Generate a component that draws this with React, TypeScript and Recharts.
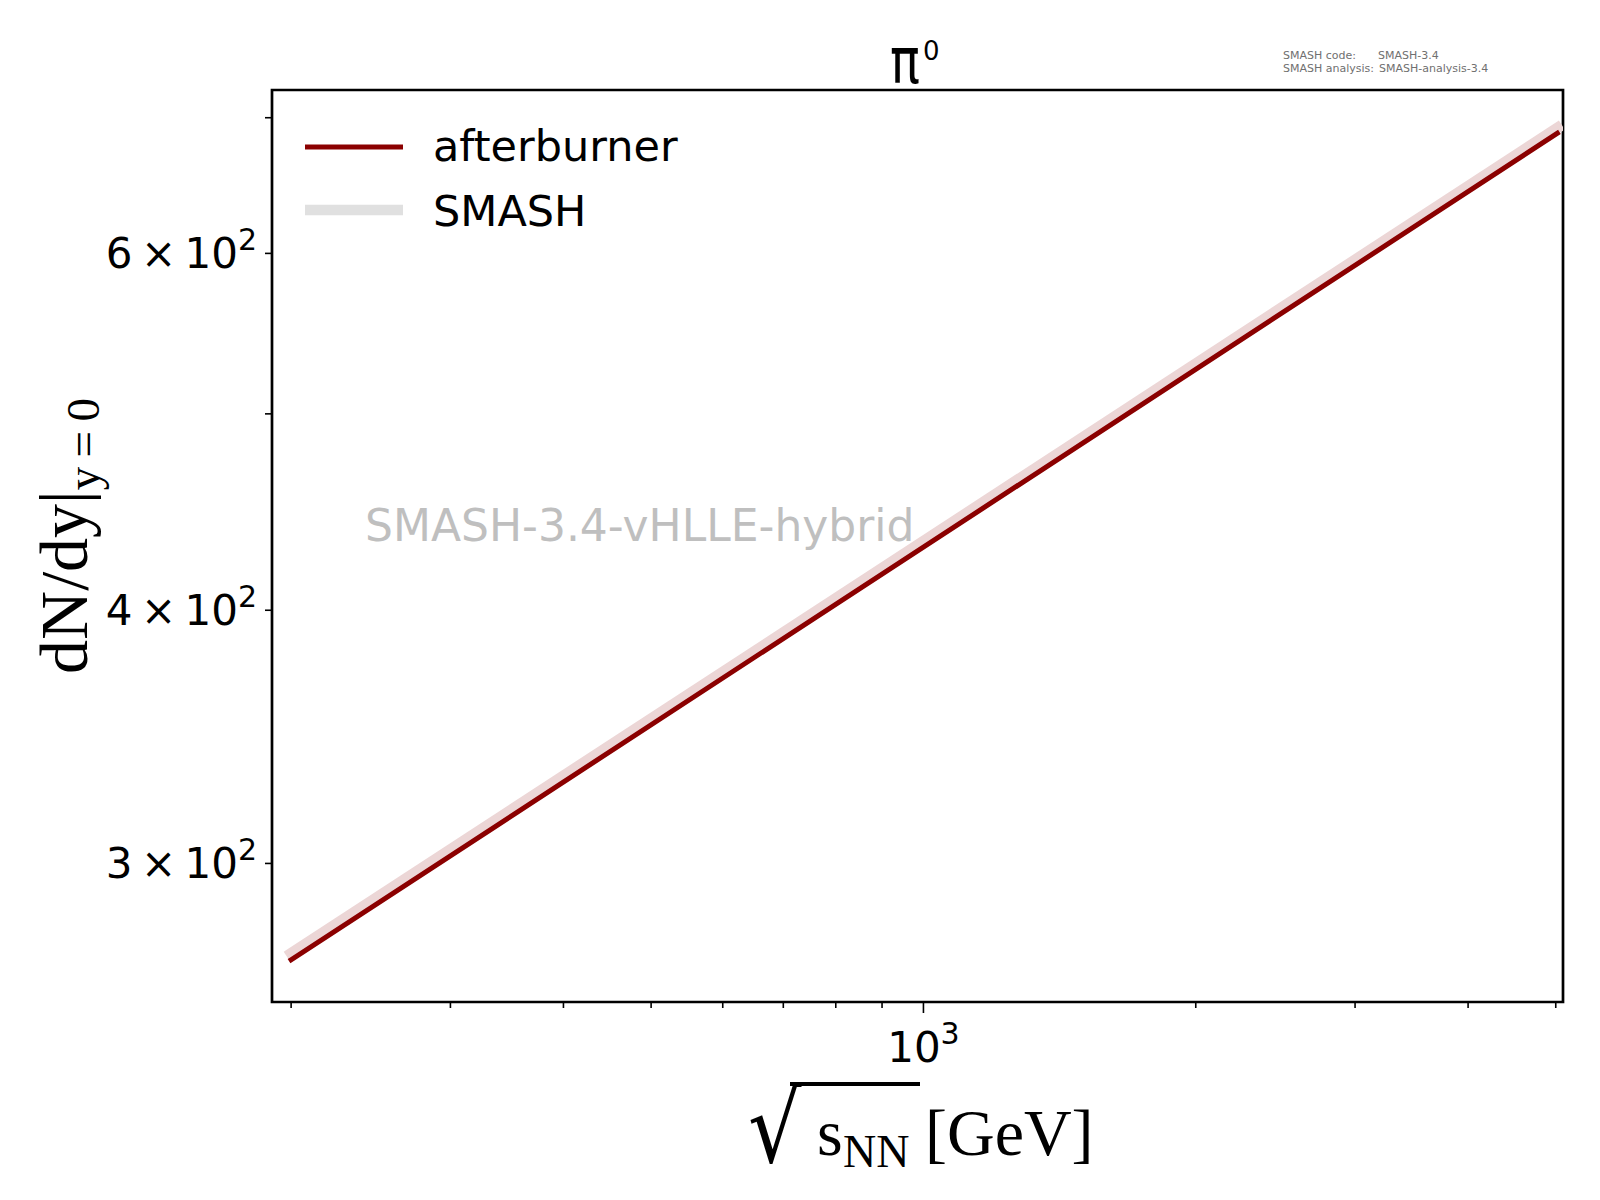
import { LineChart, Line, XAxis, YAxis, ReferenceArea, Legend } from 'recharts';

const energies = [200, 5020];
const afterburner = [268.9, 687.7];
const smash = [270.9, 691.9];

const xTicks = [200, 300, 400, 500, 600, 700, 800, 900, 1000, 2000, 3000, 4000, 5000];
const yTicks = [300, 400, 500, 600, 700];
const yLabelled = [300, 400, 600];
const xDomain = [190.5, 5093];
const yDomain = [256.3, 722.4];

const RED = '#8b0000';
const PINK = '#ecd6d6';
const GREY = '#e0e0e0';
const SANS = '"DejaVu Sans", sans-serif';
const SERIF = '"Liberation Serif", "Times New Roman", serif';

const data = energies.map((e, i) => ({ e, afterburner: afterburner[i], smash: smash[i] }));

function XTick({ x, y, payload }: any) {
  const major = payload.value === 1000;
  return (
    <g>
      <line x1={x} x2={x} y1={y} y2={y + (major ? 11 : 6)} stroke="#000" strokeWidth={1.6} />
      {major && (
        <text x={x} y={y + 60} textAnchor="middle" fontFamily={SANS} fontSize={42} fill="#000">
          10<tspan dy={-18} fontSize={30}>3</tspan>
        </text>
      )}
    </g>
  );
}

function YTick({ x, y, payload }: any) {
  const v = payload.value;
  const show = yLabelled.includes(v);
  return (
    <g>
      <line x1={x} x2={x - 7} y1={y} y2={y} stroke="#000" strokeWidth={1.6} />
      {show && (
        <text x={x - 15} y={y + 15} textAnchor="end" fontFamily={SANS} fontSize={42} fill="#000">
          {`${v / 100}\u2009×\u200910`}
          <tspan dy={-18} fontSize={30}>2</tspan>
        </text>
      )}
    </g>
  );
}

function LegendBox() {
  const items = [
    { name: 'afterburner', color: RED, width: 5 },
    { name: 'SMASH', color: GREY, width: 10.7 },
  ];
  return (
    <svg width={420} height={140}>
      {items.map((it, i) => (
        <g key={it.name}>
          <line x1={15} x2={113} y1={37 + i * 63} y2={37 + i * 63} stroke={it.color} strokeWidth={it.width} />
          <text x={143} y={51 + i * 65} fontFamily={SANS} fontSize={43} fill="#000">
            {it.name}
          </text>
        </g>
      ))}
    </svg>
  );
}

export default function App() {
  return (
    <div style={{ position: 'absolute', left: 0, top: 0, width: 1600, height: 1200, background: '#fff' }}>
      <LineChart
        width={1600}
        height={1200}
        data={data}
        margin={{ top: 90, right: 37, left: 0, bottom: 0 }}
      >
        <XAxis
          dataKey="e"
          type="number"
          scale="log"
          domain={xDomain}
          allowDataOverflow
          ticks={xTicks}
          interval={0}
          height={198}
          axisLine={false}
          tickLine={false}
          tickSize={0}
          tickMargin={0}
          tick={<XTick />}
        />
        <YAxis
          type="number"
          scale="log"
          domain={yDomain}
          allowDataOverflow
          ticks={yTicks}
          interval={0}
          width={272}
          axisLine={false}
          tickLine={false}
          tickSize={0}
          tickMargin={0}
          tick={<YTick />}
        />
        <Line
          dataKey="smash"
          stroke={PINK}
          strokeWidth={10.7}
          strokeLinecap="square"
          dot={false}
          isAnimationActive={false}
        />
        <Line
          dataKey="afterburner"
          stroke={RED}
          strokeWidth={5}
          strokeLinecap="square"
          dot={false}
          isAnimationActive={false}
        />
        <ReferenceArea
          x1={xDomain[0]}
          x2={xDomain[1]}
          y1={yDomain[0]}
          y2={yDomain[1]}
          fill="none"
          stroke="#000"
          strokeWidth={2.7}
          ifOverflow="visible"
        />
        <Legend
          layout="vertical"
          align="center"
          verticalAlign="middle"
          content={() => <LegendBox />}
          wrapperStyle={{ left: 290, top: 110, width: 420 }}
        />
      </LineChart>
      <svg
        width={1600}
        height={1200}
        style={{ position: 'absolute', left: 0, top: 0, pointerEvents: 'none' }}
      >
        {/* title */}
        <text transform="translate(905,83) scale(1.08,1.4)" textAnchor="middle" fontFamily={SANS} fontSize={46} fill="#000">
          π
        </text>
        <text x={923} y={60} fontFamily={SANS} fontSize={26} fill="#000">
          0
        </text>
        {/* version info */}
        <g fontFamily={SANS} fontSize={11} fill="#707070">
          <text x={1283} y={59}>SMASH code:</text>
          <text x={1378} y={59}>SMASH-3.4</text>
          <text x={1283} y={72}>SMASH analysis:</text>
          <text x={1379} y={72}>SMASH-analysis-3.4</text>
        </g>
        <text x={365} y={541} fontFamily={SANS} fontSize={44} fill="#bfbfbf">
          SMASH-3.4-vHLLE-hybrid
        </text>
        {/* axis labels */}
        <text transform="translate(87,536) rotate(-90)" textAnchor="middle" fontFamily={SERIF} fontSize={68} fill="#000">
          dN/dy|<tspan fontSize={47} dy={12}>{'y\u2009=\u20090'}</tspan>
        </text>
        <text transform="translate(748,1162) scale(1,1.17)" fontFamily={SANS} fontSize={84} fill="#000">
          √
        </text>
        <line x1={790} x2={920} y1={1084} y2={1084} stroke="#000" strokeWidth={4} />
        <text x={817} y={1155} fontFamily={SERIF} fontSize={66} fill="#000">
          s
        </text>
        <text x={843} y={1167} fontFamily={SERIF} fontSize={46} fill="#000">
          NN
        </text>
        <text x={925} y={1155} fontFamily={SERIF} fontSize={66} fill="#000">
          [GeV]
        </text>
      </svg>
    </div>
  );
}
